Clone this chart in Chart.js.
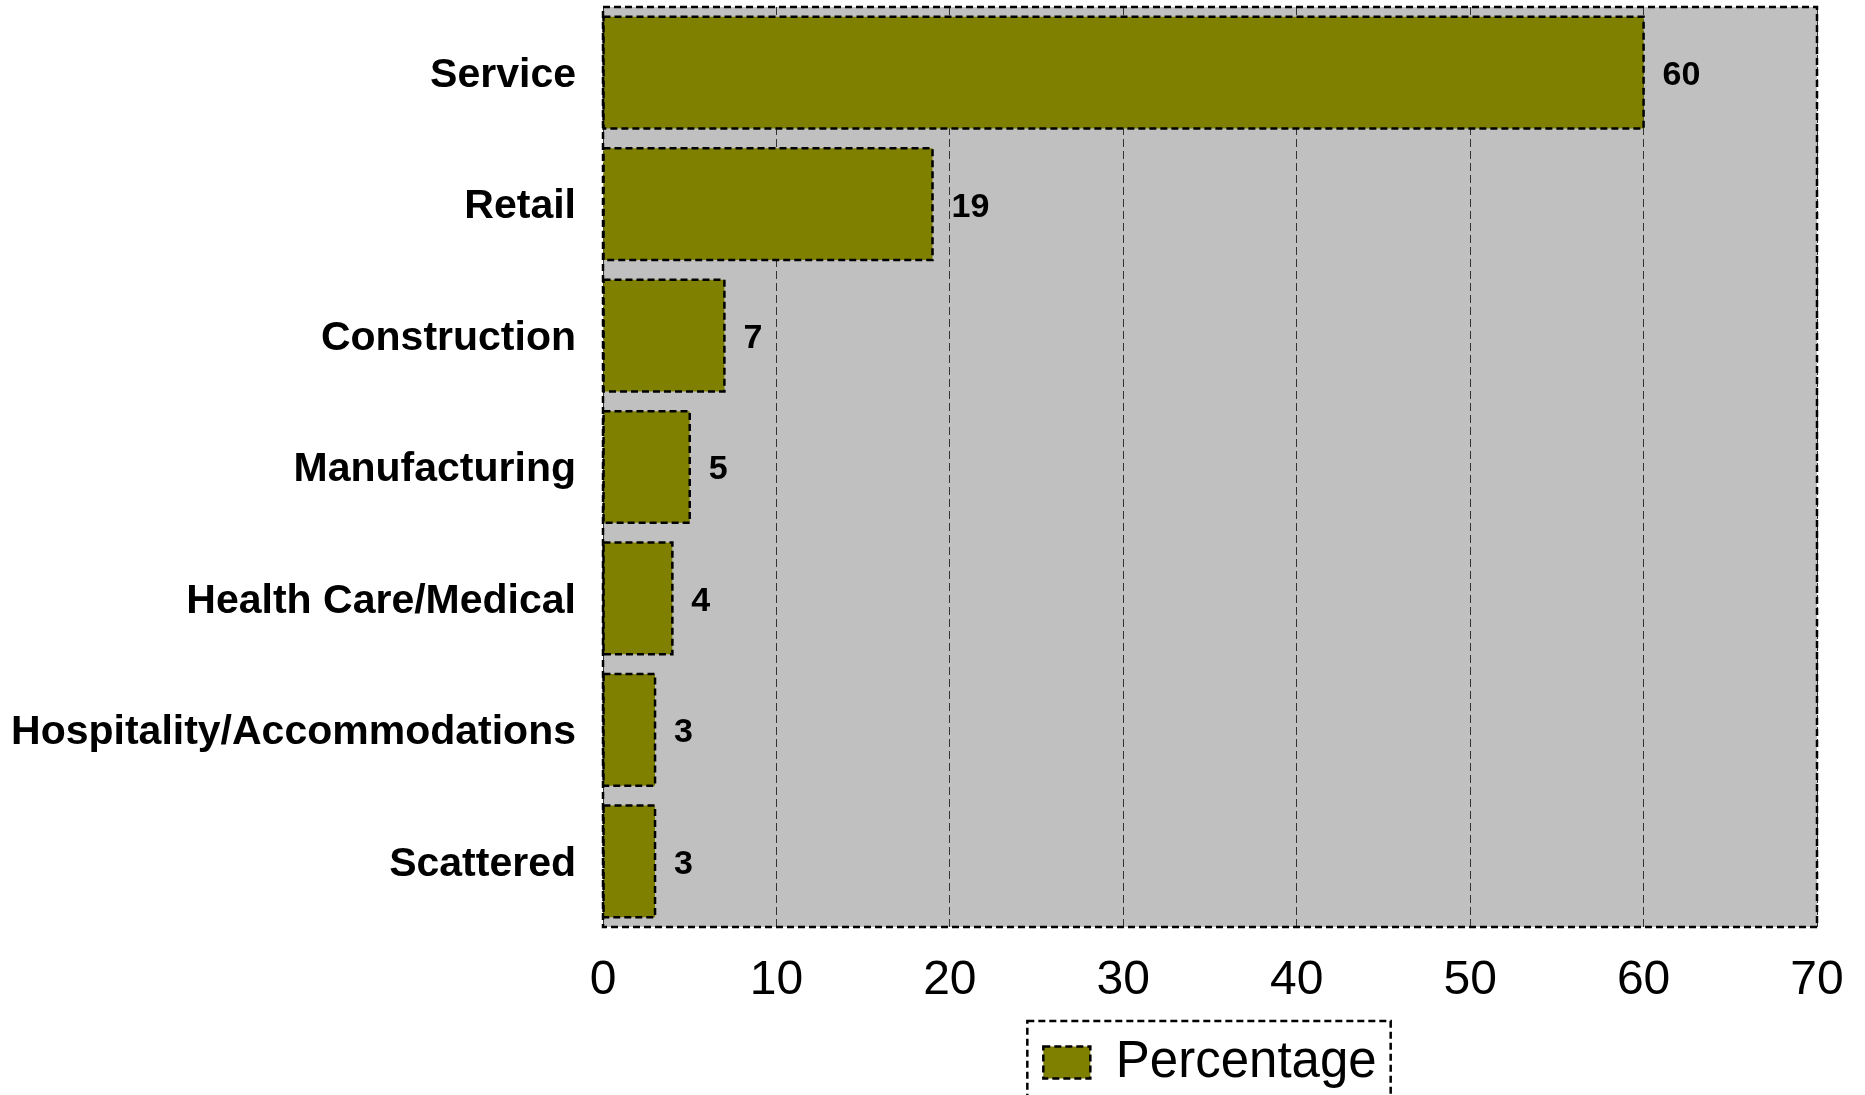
<!DOCTYPE html>
<html>
<head>
<meta charset="utf-8">
<script src="https://cdn.jsdelivr.net/npm/chart.js@4.4.0/dist/chart.umd.min.js"></script>
<style>
html, body { margin: 0; padding: 0; background: #fff; }
#wrap { width: 1865px; height: 1095px; }
</style>
</head>
<body>
<div id="wrap"><canvas id="BarChart" width="1865" height="1095"></canvas></div>
<script>
// chart data
const categories = ["Service", "Retail", "Construction", "Manufacturing", "Health Care/Medical", "Hospitality/Accommodations", "Scattered"];
const percentages = [60, 19, 7, 5, 4, 3, 3];
const seriesName = "Percentage";
const xMin = 0, xMax = 70, xStep = 10;

const olive = "#808000";
const plotGray = "#C0C0C0";
const fontFamily = "'Liberation Sans', Arial, sans-serif";

//gray plot area behind everything
const plotBackground = {
    id: "plotBackground",
    beforeDraw(chart) {
        const {ctx, chartArea: ca} = chart;
        ctx.save();
        ctx.fillStyle = plotGray;
        ctx.fillRect(ca.left, ca.top, ca.right - ca.left, ca.bottom - ca.top);
        ctx.restore();
    }
};

//dashed outlines on the bars plus the value labels
const barDecor = {
    id: "barDecor",
    afterDatasetsDraw(chart) {
        const ctx = chart.ctx;
        const meta = chart.getDatasetMeta(0);
        ctx.save();
        meta.data.forEach((bar, i) => {
            const p = bar.getProps(["x", "y", "base", "height"], true);
            ctx.setLineDash([7, 4]);
            ctx.lineWidth = 2.5;
            ctx.strokeStyle = "#000";
            ctx.strokeRect(p.base, p.y - p.height / 2, p.x - p.base, p.height);
            ctx.setLineDash([]);
            ctx.fillStyle = "#000";
            ctx.font = "bold 34px " + fontFamily;
            ctx.textAlign = "left";
            ctx.textBaseline = "middle";
            ctx.fillText(String(chart.data.datasets[0].data[i]), p.x + 19, p.y + 3);
        });
        ctx.restore();
    }
};

//dashed frame round the plot and round the legend
const frames = {
    id: "frames",
    afterDraw(chart) {
        const {ctx, chartArea: ca} = chart;
        ctx.save();
        ctx.setLineDash([7, 4]);
        ctx.lineWidth = 2.5;
        ctx.strokeStyle = "#000";
        ctx.strokeRect(ca.left, ca.top, ca.right - ca.left, ca.bottom - ca.top);
        const lg = chart.legend;
        if (lg && lg.legendHitBoxes && lg.legendHitBoxes.length) {
            const hb = lg.legendHitBoxes[0];
            ctx.strokeRect(hb.left - 16, hb.top - 16, hb.width + 30, hb.height + 60);
        }
        ctx.restore();
    }
};

var config = {
    type: "bar",
    data: {
        labels: categories,
        datasets: [{
            label: seriesName,
            data: percentages,
            backgroundColor: olive,
            borderWidth: 0,
            barPercentage: 0.85,
            categoryPercentage: 1.0
        }]
    },
    options: {
        indexAxis: "y",
        responsive: false,
        animation: false,
        devicePixelRatio: 1,
        layout: {
            padding: {top: 7, right: 48, bottom: -3, left: 0}
        },
        plugins: {
            tooltip: {enabled: false},
            legend: {
                display: true,
                position: "bottom",
                fullSize: false,
                labels: {
                    boxWidth: 47,
                    boxHeight: 32,
                    padding: 13,
                    color: "#000",
                    font: {family: fontFamily, size: 51},
                    generateLabels(chart) {
                        return [{
                            text: seriesName,
                            fillStyle: olive,
                            strokeStyle: "#000",
                            lineWidth: 2.5,
                            lineDash: [7, 4],
                            datasetIndex: 0,
                            hidden: false
                        }];
                    }
                }
            }
        },
        scales: {
            x: {
                type: "linear",
                min: xMin,
                max: xMax,
                afterFit(scale) {
                    scale.height = 97;
                    scale.paddingLeft = 0;
                    scale.paddingRight = 0;
                },
                ticks: {
                    stepSize: xStep,
                    padding: 25,
                    color: "#000",
                    font: {family: fontFamily, size: 48}
                },
                grid: {
                    display: true,
                    color: "#333",
                    lineWidth: 1,
                    drawTicks: false
                },
                border: {display: false, dash: [8, 4]}
            },
            y: {
                afterFit(scale) {
                    scale.width = 603;
                    scale.paddingTop = 0;
                    scale.paddingBottom = 0;
                },
                ticks: {
                    padding: 27,
                    labelOffset: 3,
                    color: "#000",
                    font: {family: fontFamily, size: 41, weight: "bold"}
                },
                grid: {display: false, drawTicks: false},
                border: {display: false}
            }
        }
    },
    plugins: [plotBackground, barDecor, frames]
};

var canvasElement = document.getElementById("BarChart");
window.myBar = new Chart(canvasElement, config);
</script>
</body>
</html>
